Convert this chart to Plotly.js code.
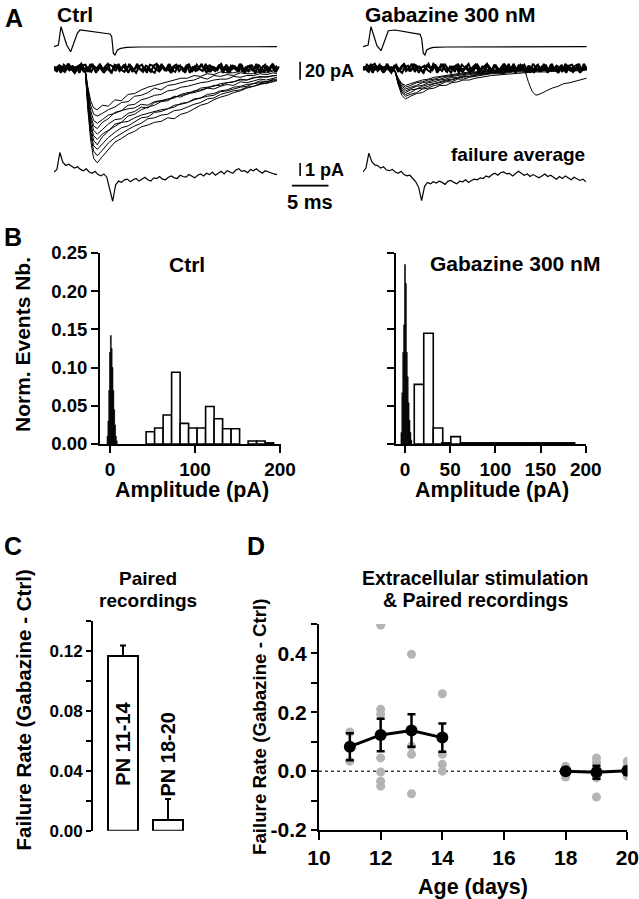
<!DOCTYPE html>
<html>
<head>
<meta charset="utf-8">
<script src="https://cdn.plot.ly/plotly-3.0.1.min.js"></script>
<style>html,body{margin:0;padding:0;background:#fff;}#chart{width:639px;height:899px;}</style>
</head>
<body>
<div id="chart"></div>
<script>
// ---------------- DATA ----------------
// Panel A: stimulus (presynaptic) traces, arbitrary units, time in ms
const STIM_T_CTRL = [0, 0.6, 0.95, 1.27, 1.73, 2.27, 2.73, 3.18, 3.55, 4.45, 6.27, 7.64, 7.87, 8.1, 8.32, 8.64, 9.1, 9.9, 11.7, 30.4];
const STIM_CTRL   = [0, 1.7, 20, 13.3, 1.7, -5, 3.3, 13.3, 16.7, 15.7, 14, 12.7, 10, -6.7, -8.3, -3.3, -1.7, -0.7, -0.3, 0];
const STIM_T_GBZ  = [0, 0.7, 1.09, 1.45, 1.9, 2.46, 2.95, 3.45, 4.37, 6.2, 7.78, 8.0, 8.23, 8.45, 8.69, 9.1, 9.6, 11.5, 30.5];
const STIM_GBZ    = [0, 1.7, 20, 12, 1, -4, 5, 16, 16.7, 14.5, 12.3, 8.3, -6.5, -8.3, -3.3, -1.7, -0.7, -0.3, 0];

// Panel A: failures (noise band), pA, sampled every 0.4 ms
const FAIL_CTRL_A = [1,-4,3,0,-2,5,-1,-5,2,4, -3,1,-4,5,0,-2,3,-5,-1,4, 2,-3,5,-2,-4,1,3,-1,-5,2, 4,-2,0,-4,3,5,-3,1,-2,4, -5,2,-1,3,-3,0,5,-4,2,-2, 3,1,-5,4,-1,-3,2,5,-2,0, -4,3,1,-3,4,-5,2,0,-2,5, -3,1,4,-4,2,-1,3];
const FAIL_CTRL_B = [-3,2,-5,4,1,-2,3,-4,0,5, -1,-3,4,2,-5,3,-2,1,5,-4, -1,3,-3,0,4,-5,2,-2,5,-1, -4,3,1,-3,-5,4,0,2,-3,5, -2,-4,3,1,-1,4,-5,2,-3,0, 5,-2,3,-4,1,-1,4,-3,2,-5, 3,0,-2,5,-4,1,-3,4,-1,2, -5,3,-2,0,4,-3,1];
const FAIL_CTRL_C = [0,3,-2,-4,5,1,-3,2,-5,3, 4,-1,-4,2,0,5,-3,1,-2,-5, 4,2,-1,3,-3,5,-4,0,2,-2, 1,-5,4,3,-1,-3,5,-2,0,-4, 2,4,-3,1,-5,3,0,-2,4,-1, -3,5,-4,2,1,-2,3,-5,4,0, -1,2,-4,5,-3,1,3,-2,-5,4, 0,-3,2,-1,5,-4,2];
const FAIL_GBZ_A  = [2,-1,-4,3,5,-3,0,-5,4,1, -2,3,-4,2,5,-1,-3,0,4,-5, 1,3,-2,-4,5,2,-1,-3,4,0, -5,2,3,-2,-4,1,5,-3,0,4, -1,-5,3,2,-2,4,-4,1,5,-3, 0,2,-5,3,-1,4,-2,-4,5,1, -3,2,0,-5,4,-2,3,1,-4,5, -1,-3,2,4,-5,0,3];
const FAIL_GBZ_B  = [-2,4,1,-5,3,-1,2,-4,5,-3, 0,4,-2,-5,1,3,-3,5,-1,2, -4,0,5,-2,3,-5,1,4,-3,-1, 2,-4,5,0,-2,3,-5,1,4,-3, -1,2,5,-4,0,3,-2,-5,4,1, -3,5,-1,-2,4,-4,2,0,-5,3, 1,-2,4,-3,5,-1,-4,2,0,-5, 3,4,-2,1,-3,5,-1];
const FAIL_GBZ_C  = [1,-3,5,-2,0,4,-4,2,-1,-5, 3,1,-2,4,-3,0,5,-4,2,-1, -5,3,1,-2,4,-3,5,0,-4,2, -1,3,-5,4,1,-2,0,-3,5,-4, 2,-1,4,-5,3,0,-2,1,-4,5, -3,2,-1,4,0,-5,3,-2,1,4, -4,5,-3,0,2,-1,-5,4,-2,3, 1,-4,0,5,-3,2,-2];

// Panel A: successful EPSCs (pA)
const T_EVT_CTRL = [0,1,2,3,4,4.3,4.6,5.0,5.4, 5.9,6.6,7.4,8.3,9.2,10.1,11.0,11.9,12.8,13.7,14.6,15.5,16.4,17.3,18.2,19.1,20.0,20.9,21.8,22.7,23.6,24.5,25.4,26.3,27.2,28.1,29.0,29.9,30.4];
const EVT_CTRL = [
  [2,-1,1,-2,1,-3,-20,-36,-44, -46,-41,-42,-35,-36,-29,-28,-24,-21,-19,-17,-15,-13,-11,-11,-8,-9,-6,-7,-4,-5,-5,-3,-4,-2,-4,-3,-2,-3],
  [-1,2,-2,1,-1,-4,-23,-41,-51, -53,-50,-46,-43,-38,-37,-31,-30,-27,-22,-24,-19,-18,-16,-14,-13,-10,-12,-8,-9,-7,-8,-5,-6,-6,-4,-5,-3,-4],
  [1,-2,2,0,-2,-5,-26,-47,-58, -61,-57,-52,-50,-47,-45,-44,-40,-41,-37,-36,-35,-31,-32,-28,-27,-25,-22,-23,-20,-18,-19,-15,-16,-14,-12,-13,-11,-10],
  [-2,1,-1,2,0,-4,-29,-52,-64, -67,-60,-56,-49,-47,-41,-40,-35,-33,-30,-29,-25,-24,-21,-20,-18,-16,-15,-13,-12,-12,-9,-10,-8,-8,-6,-7,-5,-6],
  [0,2,-2,-1,2,-5,-31,-56,-69, -73,-68,-62,-57,-56,-50,-48,-43,-44,-38,-36,-34,-33,-29,-27,-26,-22,-21,-20,-17,-16,-15,-12,-13,-11,-9,-10,-8,-8],
  [2,-1,0,1,-1,-6,-34,-61,-75, -79,-73,-69,-65,-60,-59,-55,-52,-50,-48,-46,-45,-41,-40,-38,-35,-33,-31,-30,-26,-25,-23,-21,-20,-17,-16,-15,-13,-13],
  [-1,0,2,-2,1,-5,-36,-65,-80, -85,-76,-70,-62,-60,-53,-51,-46,-43,-41,-37,-36,-32,-30,-29,-25,-24,-22,-19,-19,-16,-15,-13,-13,-10,-10,-9,-8,-8],
  [1,-2,-1,2,-1,-6,-38,-69,-86, -90,-84,-77,-71,-66,-64,-59,-55,-54,-49,-48,-45,-43,-39,-38,-34,-33,-29,-28,-25,-24,-21,-20,-18,-17,-14,-15,-12,-12],
  [-2,1,1,-1,2,-5,-41,-74,-92, -97,-91,-83,-77,-72,-68,-64,-61,-56,-55,-52,-51,-47,-46,-43,-40,-38,-34,-33,-29,-27,-25,-24,-21,-20,-17,-17,-14,-14],
  [0,-1,2,1,-2,-6,-44,-80,-100, -105,-98,-90,-82,-78,-73,-70,-65,-63,-60,-59,-55,-56,-51,-49,-45,-41,-39,-35,-32,-30,-27,-25,-22,-20,-18,-16,-15,-13]
];
const T_EVT_GBZ = [0,1.5,3,4,4.4,4.8,5.3,5.8,6.5,7.3,8.1,8.9,9.7,10.5,11.3,12.1,12.9,13.7,14.5,15.3,16.1,17.5,19,20.5,22,23.5,25,26.5,28,29.5,30.5];
const EVT_GBZ = [
  [1,-1,2,0,-4,-18,-30,-34,-31,-28,-27,-23,-22,-19,-19,-16,-15,-13,-13,-11,-10,-8,-7,-6,-5,-4,-4,-3,-2,-3,-2],
  [-1,2,-1,1,-3,-16,-27,-31,-29,-27,-23,-22,-19,-18,-15,-15,-12,-12,-10,-9,-8,-6,-6,-4,-4,-3,-2,-3,-1,-2,-1],
  [2,0,-2,-1,-5,-17,-26,-29,-27,-23,-22,-20,-17,-16,-14,-13,-11,-10,-9,-8,-7,-5,-5,-3,-3,-2,-2,-1,-2,-1,-1],
  [0,1,1,-2,-4,-15,-24,-27,-24,-23,-20,-18,-17,-15,-13,-12,-11,-9,-9,-7,-6,-5,-4,-3,-2,-3,-1,-2,-1,0,-1],
  [-2,0,2,1,-3,-14,-22,-25,-23,-20,-19,-16,-15,-13,-12,-10,-10,-8,-7,-6,-6,-4,-3,-3,-2,-1,-2,0,-1,-1,0],
  [1,-2,0,2,-4,-13,-20,-23,-21,-19,-16,-15,-13,-12,-10,-9,-8,-7,-6,-5,-5,-3,-3,-2,-1,-2,0,-1,0,-1,0],
  [-1,1,-1,0,-3,-12,-18,-21,-19,-16,-15,-13,-12,-10,-9,-8,-7,-6,-5,-5,-4,-3,-2,-2,-1,0,-1,0,1,0,-1],
  [0,-1,1,-1,-4,-11,-17,-19,-17,-15,-13,-12,-10,-9,-8,-7,-6,-5,-4,-4,-3,-2,-2,-1,0,-1,0,1,0,0,-1]
];
const T_LATE_GBZ = [0,3,6,9,12,15,18,20,21.5,22.1,22.6,23.1,23.6,24.3,25,25.8,26.6,27.4,28.2,29,29.8,30.5];
const LATE_GBZ   = [0,1,-1,2,-1,0,-2,1,-1,-3,-16,-26,-30,-28,-25,-22,-20,-17,-16,-14,-12,-11];

// Panel A: failure averages (pA), sampled every 0.4 ms
const FAILAVG_CTRL = [0,0.2,1.5,0.75,0.5,0.6,0.45,0.3,0.4,0.2, 0.1,0.25,0,-0.1,0.05,-0.2,-0.3,-0.15,-0.4,-1.3, -2.25,-1.0,-0.7,-0.8,-0.6,-0.55,-0.75,-0.6,-0.5,-0.7, -0.55,-0.4,-0.6,-0.7,-0.45,-0.5,-0.35,-0.55,-0.6,-0.4, -0.3,-0.45,-0.5,-0.25,-0.35,-0.4,-0.2,-0.3,-0.45,-0.25, -0.15,-0.3,-0.1,-0.2,0,-0.25,-0.1,0.05,-0.15,0.1, 0,-0.1,0.15,0.25,0.05,0.1,-0.05,0.2,0.1,0.25, 0.05,-0.1,0.1,0,-0.05,-0.15,-0.2];
const FAILAVG_GBZ  = [0,0.3,1.45,0.8,0.55,0.5,0.3,0.4,0.15,0.1, 0.2,0,-0.1,0.05,-0.2,-0.3,-0.25,-0.5,-0.75,-1.2, -2.2,-1.1,-0.8,-0.9,-0.75,-0.85,-0.7,-0.8,-0.95,-0.7, -0.65,-0.8,-0.9,-0.7,-0.75,-0.6,-0.8,-0.65,-0.55,-0.6, -0.45,-0.5,-0.3,-0.4,-0.2,-0.1,-0.25,-0.05,0,-0.15, -0.1,-0.3,-0.15,0.05,-0.1,-0.25,-0.15,-0.35,-0.2,-0.3, -0.45,-0.3,-0.15,-0.35,-0.25,-0.4,-0.55,-0.35,-0.5,-0.3, -0.45,-0.6,-0.4,-0.5,-0.65,-0.55,-0.75];
const SAMPLE_MS = 0.4;

// Scale bars
const SCALE_EPSC_PA = 20, SCALE_FAIL_PA = 1, SCALE_TIME_MS = 5;

// Panel B: histograms (normalized events)
const HIST_CTRL_X  = [47.5,57.5,67.5,77.5,87.5,97.5,107.5,117.5,127.5,137.5,147.5,167.5,177.5,187.5];
const HIST_CTRL_Y  = [0.016,0.021,0.038,0.094,0.027,0.021,0.021,0.049,0.033,0.020,0.020,0.004,0.004,0.0015];
const NOISE_CTRL_X = [-3,-2,-1,0,1,2,3,4,5,6,7,8];
const NOISE_CTRL_Y = [0.01,0.03,0.07,0.12,0.142,0.125,0.10,0.07,0.045,0.025,0.01,0.004];
const HIST_GBZ_X   = [15.5,26,36.5,46,56,67,77.5,88,98.5,109,119.5,130,140.5,151,161.5,172,182.5];
const HIST_GBZ_Y   = [0.078,0.145,0.021,0.0015,0.0096,0.0015,0.0015,0.0015,0.0015,0.0015,0.0015,0.0015,0.0015,0.0015,0.0015,0.0015,0.0015];
const NOISE_GBZ_X  = [-4,-3,-2,-1,0,1,2,3,4,5,6,7];
const NOISE_GBZ_Y  = [0.015,0.067,0.12,0.156,0.235,0.21,0.12,0.088,0.054,0.031,0.015,0.005];

// Panel C: paired recordings
const C_GROUPS = ['PN 11-14','PN 18-20'];
const C_MEAN   = [0.1165, 0.0071];
const C_SEM    = [0.007, 0.014];

// Panel D: failure rate difference vs age
const D_DAYS_A = [11,12,13,14];
const D_MEAN_A = [0.083,0.123,0.138,0.114];
const D_SEM_A  = [0.046,0.055,0.055,0.048];
const D_DAYS_B = [18,19,20];
const D_MEAN_B = [0.0,-0.004,0.001];
const D_SEM_B  = [0.008,0.022,0.012];
const D_PTS_X  = [11,11,11, 12,12,12,12,12,12,12, 13,13,13,13,13, 14,14,14,14, 18,18,18, 19,19,19,19,19, 20,20,20];
const D_PTS_Y  = [0.133,0.085,0.034, 0.496,0.21,0.193,0.045,-0.003,-0.034,-0.051, 0.397,0.142,0.085,0.057,-0.077, 0.263,0.057,0.023,0.0, 0.017,0.0,-0.02, 0.045,0.03,0.011,-0.023,-0.088, 0.034,0.019,-0.017];

// ---------------- LAYOUT HELPERS ----------------
const W = 639, H = 899;
const FONT = 'Liberation Sans, Arial, Helvetica, sans-serif';
const dX = (a,b) => [a/W, b/W];
const dY = (top,bot) => [1-bot/H, 1-top/H];
const px = v => v/W, py = v => 1 - v/H;

const hidden = {visible:false, fixedrange:true};
function ax(extra){
  return Object.assign({showline:true, linecolor:'#000', linewidth:2, ticks:'outside', ticklen:7, tickwidth:2,
    tickcolor:'#000', showgrid:false, zeroline:false, fixedrange:true,
    tickfont:{family:FONT, size:19, color:'#000', weight:'bold'}}, extra);
}

const traces = [];
const line = (x, y, xa, ya, w) => ({type:'scatter', mode:'lines', x, y, xaxis:xa, yaxis:ya,
  line:{color:'#000', width:w||1}, hoverinfo:'skip'});
const lineDx = (y, x0, xa, ya, w) => ({type:'scatter', mode:'lines', y, x0, dx:SAMPLE_MS, xaxis:xa, yaxis:ya,
  line:{color:'#000', width:w||1}, hoverinfo:'skip'});

// Panel A - Ctrl
traces.push(line(STIM_T_CTRL, STIM_CTRL, 'x', 'y', 1.2));
traces.push(lineDx(FAIL_CTRL_A, 0, 'x2', 'y2', 2));
traces.push(lineDx(FAIL_CTRL_B, 0.13, 'x2', 'y2', 2));
traces.push(lineDx(FAIL_CTRL_C, 0.27, 'x2', 'y2', 2));
EVT_CTRL.forEach(tr => traces.push(line(T_EVT_CTRL, tr, 'x2', 'y2', 1)));
traces.push(lineDx(FAILAVG_CTRL, 0, 'x3', 'y3', 1.2));
// Panel A - Gabazine
traces.push(line(STIM_T_GBZ, STIM_GBZ, 'x4', 'y4', 1.2));
traces.push(lineDx(FAIL_GBZ_A, 0, 'x5', 'y5', 2));
traces.push(lineDx(FAIL_GBZ_B, 0.13, 'x5', 'y5', 2));
traces.push(lineDx(FAIL_GBZ_C, 0.27, 'x5', 'y5', 2));
EVT_GBZ.forEach(tr => traces.push(line(T_EVT_GBZ, tr, 'x5', 'y5', 1)));
traces.push(line(T_LATE_GBZ, LATE_GBZ, 'x5', 'y5', 1));
traces.push(lineDx(FAILAVG_GBZ, 0, 'x6', 'y6', 1.2));

// Scale bars (in ctrl data coordinates)
const SB_X = 33.56;
traces.push(line([SB_X, SB_X], [7.3, 7.3 - SCALE_EPSC_PA], 'x2', 'y2', 1.6));
traces.push(line([SB_X, SB_X], [0.69, 0.69 - SCALE_FAIL_PA], 'x3', 'y3', 1.6));
traces.push(line([32.43, 32.43 + SCALE_TIME_MS], [-1.05, -1.05], 'x3', 'y3', 1.6));

// Panel B
const openBar = (x, y, w, xa, ya) => ({type:'bar', x, y, width:w, xaxis:xa, yaxis:ya,
  marker:{color:'#fff', line:{color:'#000', width:1.6}}, hoverinfo:'skip'});
const fillBar = (x, y, xa, ya) => ({type:'bar', x, y, width:1, xaxis:xa, yaxis:ya,
  marker:{color:'#000', line:{color:'#000', width:0.6}}, hoverinfo:'skip'});
traces.push(openBar(HIST_CTRL_X, HIST_CTRL_Y, 10, 'x7', 'y7'));
traces.push(fillBar(NOISE_CTRL_X, NOISE_CTRL_Y, 'x7', 'y7'));
traces.push(openBar(HIST_GBZ_X, HIST_GBZ_Y, 10.5, 'x8', 'y8'));
traces.push(fillBar(NOISE_GBZ_X, NOISE_GBZ_Y, 'x8', 'y8'));

// Panel C
traces.push({type:'bar', x:[0,1], y:C_MEAN, width:0.667, xaxis:'x9', yaxis:'y9',
  marker:{color:'#fff', line:{color:'#000', width:2}},
  error_y:{type:'data', symmetric:false, array:C_SEM, arrayminus:[0,0], color:'#000', thickness:2, width:3},
  hoverinfo:'skip'});

// Panel D
traces.push({type:'scatter', mode:'markers', x:D_PTS_X, y:D_PTS_Y, xaxis:'x10', yaxis:'y10',
  marker:{color:'#b4b4b4', size:9}, hoverinfo:'skip'});
[[D_DAYS_A, D_MEAN_A, D_SEM_A],[D_DAYS_B, D_MEAN_B, D_SEM_B]].forEach(([x,y,e]) => {
  traces.push({type:'scatter', mode:'lines+markers', x, y, xaxis:'x10', yaxis:'y10',
    line:{color:'#000', width:3}, marker:{color:'#000', size:12},
    error_y:{type:'data', array:e, color:'#000', thickness:2.5, width:4}, hoverinfo:'skip'});
});

// ---------------- AXES ----------------
const layout = {
  width:W, height:H, margin:{l:0,r:0,t:0,b:0}, paper_bgcolor:'#fff', plot_bgcolor:'rgba(0,0,0,0)',
  showlegend:false, barmode:'overlay', bargap:0, font:{family:FONT, color:'#000'},
  xaxis:  Object.assign({domain:dX(54,340), range:[0,39.0], anchor:'y'}, hidden),
  yaxis:  Object.assign({domain:dY(20,62), range:[-15.3,26.7], anchor:'x'}, hidden),
  xaxis2: Object.assign({domain:dX(54,340), range:[0,39.0], anchor:'y2'}, hidden),
  yaxis2: Object.assign({domain:dY(55,172), range:[-115.2,14.8], anchor:'x2'}, hidden),
  xaxis3: Object.assign({domain:dX(54,340), range:[0,39.0], anchor:'y3'}, hidden),
  yaxis3: Object.assign({domain:dY(145,210), range:[-2.923,2.077], anchor:'x3'}, hidden),
  xaxis4: Object.assign({domain:dX(363,587), range:[0,30.56], anchor:'y4'}, hidden),
  yaxis4: Object.assign({domain:dY(20,62), range:[-15.3,26.7], anchor:'x4'}, hidden),
  xaxis5: Object.assign({domain:dX(363,587), range:[0,30.56], anchor:'y5'}, hidden),
  yaxis5: Object.assign({domain:dY(55,172), range:[-115.2,14.8], anchor:'x5'}, hidden),
  xaxis6: Object.assign({domain:dX(363,587), range:[0,30.56], anchor:'y6'}, hidden),
  yaxis6: Object.assign({domain:dY(145,210), range:[-2.923,2.077], anchor:'x6'}, hidden),

  xaxis7: ax({domain:dX(100,281), range:[-11.76,201.2], anchor:'y7', tickvals:[0,100,200]}),
  yaxis7: ax({domain:dY(253,444), range:[0,0.25], anchor:'x7', tickvals:[0,0.05,0.1,0.15,0.2,0.25],
               ticktext:['0.00','0.05','0.10','0.15','0.20','0.25'], tickfont:{family:FONT,size:18.5,color:'#000',weight:'bold'}}),
  xaxis8: ax({domain:dX(396,586), range:[-9.96,200.3], anchor:'y8', tickvals:[0,50,100,150,200]}),
  yaxis8: ax({domain:dY(253,444), range:[0,0.25], anchor:'x8', tickvals:[0,0.05,0.1,0.15,0.2,0.25], showticklabels:false}),

  xaxis9: Object.assign({domain:dX(93,200), range:[-0.667,1.711], anchor:'y9'}, hidden),
  yaxis9: ax({domain:dY(620.7,830.7), range:[0,0.14], anchor:'x9', ticklen:5,
               tickvals:[0,0.02,0.04,0.06,0.08,0.10,0.12,0.14], ticktext:['0.00','','0.04','','0.08','','0.12',''],
               tickfont:{family:FONT,size:17,color:'#000',weight:'bold'}}),

  xaxis10: ax({domain:dX(319,627.3), range:[10,20], anchor:'y10', tickvals:[10,12,14,16,18,20], ticklen:8,
               tickfont:{family:FONT,size:21,color:'#000',weight:'bold'}}),
  yaxis10: ax({domain:dY(624,830), range:[-0.2,0.5], anchor:'x10', ticklen:6,
               tickvals:[-0.2,-0.1,0,0.1,0.2,0.3,0.4,0.5], ticktext:['-0.2','','0.0','','0.2','','0.4',''],
               tickfont:{family:FONT,size:21,color:'#000',weight:'bold'}}),

  shapes:[
    {type:'line', xref:'x10', yref:'y10', x0:10, x1:20, y0:0, y1:0, layer:'below',
     line:{color:'#444', width:1.5, dash:'dot'}}
  ],
  annotations:[]
};

function txt(text, x, y, size, opts){
  return Object.assign({text, x:px(x), y:py(y), xref:'paper', yref:'paper', showarrow:false,
    xanchor:'center', yanchor:'middle', font:{family:FONT, size, color:'#000', weight:'bold'}}, opts||{});
}
const A = layout.annotations;
A.push(txt('A', 3, 18, 25, {xanchor:'left'}));
A.push(txt('Ctrl', 55, 15, 21, {xanchor:'left'}));
A.push(txt('Gabazine 300 nM', 363, 15, 21, {xanchor:'left'}));
A.push({text:SCALE_EPSC_PA + ' pA', x:34.0, y:-2.8, xref:'x2', yref:'y2', showarrow:false, xanchor:'left', yanchor:'middle',
  font:{family:FONT, size:18, color:'#000', weight:'bold'}});
A.push({text:SCALE_FAIL_PA + ' pA', x:34.0, y:0.15, xref:'x3', yref:'y3', showarrow:false, xanchor:'left', yanchor:'middle',
  font:{family:FONT, size:18, color:'#000', weight:'bold'}});
A.push({text:SCALE_TIME_MS + ' ms', x:34.93, y:-2.28, xref:'x3', yref:'y3', showarrow:false, xanchor:'center', yanchor:'middle',
  font:{family:FONT, size:20, color:'#000', weight:'bold'}});
A.push({text:'failure average', x:30.56, y:1.31, xref:'x6', yref:'y6', showarrow:false, xanchor:'right', yanchor:'middle',
  font:{family:FONT, size:19, color:'#000', weight:'bold'}});

A.push(txt('B', 2, 237, 25, {xanchor:'left'}));
A.push(txt('Ctrl', 187, 265, 21));
A.push(txt('Gabazine 300 nM', 515, 263, 21));
A.push(txt('Norm. Events Nb.', 22, 345, 21, {textangle:-90}));
A.push(txt('Amplitude (pA)', 192, 490, 21.5));
A.push(txt('Amplitude (pA)', 492, 490, 21.5));

A.push(txt('C', 2, 546, 25, {xanchor:'left'}));
A.push(txt('Paired', 148, 578, 19));
A.push(txt('recordings', 148, 600, 19));
A.push(txt('Failure Rate (Gabazine - Ctrl)', 22.5, 710, 20.5, {textangle:-90}));
A.push({text:C_GROUPS[0], x:0, y:0.058, xref:'x9', yref:'y9', showarrow:false, textangle:-90,
  xanchor:'center', yanchor:'middle', font:{family:FONT, size:20, color:'#000', weight:'bold'}});
A.push({text:C_GROUPS[1], x:1, y:C_MEAN[1] + C_SEM[1], xref:'x9', yref:'y9', showarrow:false, textangle:-90,
  xanchor:'center', yanchor:'bottom', font:{family:FONT, size:20, color:'#000', weight:'bold'}});

A.push(txt('D', 245, 546, 25, {xanchor:'left'}));
A.push(txt('Extracellular stimulation', 475, 578, 19.5));
A.push(txt('& Paired recordings', 475, 600, 19.5));
A.push(txt('Failure Rate (Gabazine - Ctrl)', 259, 727, 18.7, {textangle:-90}));
A.push(txt('Age (days)', 473, 887, 21.5));

Plotly.newPlot('chart', traces, layout, {staticPlot:true, displayModeBar:false});
</script>
</body>
</html>
